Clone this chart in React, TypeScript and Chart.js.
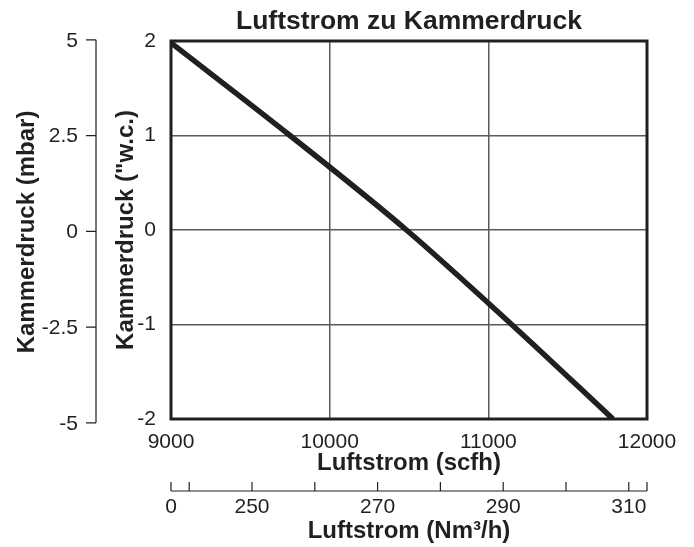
import React, { useEffect, useRef } from 'react';
import { Chart, registerables } from 'chart.js';

Chart.register(...registerables);

// ---- data ----
const airflowScfh = [9000, 9750, 10484, 11147, 11785];
const pressureWc = [1.98, 1, 0, -1, -2];

const scfhMin = 9000;
const scfhMax = 12000;
const scfhStep = 1000;
const wcMin = -2;
const wcMax = 2;
const wcStep = 1;

const mbarTicks = [5, 2.5, 0, -2.5, -5];
const mbarRange = [-4.9, 4.97];

const nmRange = [237.1, 312.9];
const nmTicks = [240, 250, 260, 270, 280, 290, 300, 310];
const nmLabelTicks = [250, 270, 290, 310];
const nmStartLabel = '0';

const TITLE = 'Luftstrom zu Kammerdruck';
const X_TITLE = 'Luftstrom (scfh)';
const Y_TITLE = 'Kammerdruck ("w.c.)';
const MBAR_TITLE = 'Kammerdruck (mbar)';
const NM_TITLE = 'Luftstrom (Nm³/h)';

// ---- styles ----
const INK = '#231f20';
const GRID = '#5a5a5a';
const FAMILY = "'Liberation Sans', Arial, Helvetica, sans-serif";
const TICK_SIZE = 21;
const TITLE_SIZE = 24;

const frame = {
  id: 'frame',
  beforeDatasetsDraw(chart: any) {
    const { ctx, chartArea: ca } = chart;
    ctx.save();
    ctx.strokeStyle = INK;
    ctx.lineWidth = 3;
    ctx.strokeRect(ca.left, ca.top, ca.right - ca.left, ca.bottom - ca.top);
    ctx.restore();
  },
};

const auxAxes = {
  id: 'auxAxes',
  afterDraw(chart: any) {
    const { ctx, chartArea: ca } = chart;
    const ym = chart.scales.yMbar;
    const xn = chart.scales.xNm;
    ctx.save();
    ctx.strokeStyle = INK;
    ctx.fillStyle = INK;

    // mbar axis (left, outer)
    const axX = 96;
    ctx.lineWidth = 1.2;
    ctx.beginPath();
    ctx.moveTo(axX, ym.getPixelForValue(mbarTicks[0]));
    ctx.lineTo(axX, ym.getPixelForValue(mbarTicks[mbarTicks.length - 1]));
    mbarTicks.forEach((v) => {
      const y = ym.getPixelForValue(v);
      ctx.moveTo(axX - 10, y);
      ctx.lineTo(axX, y);
    });
    ctx.stroke();
    ctx.font = `${TICK_SIZE}px ${FAMILY}`;
    ctx.textAlign = 'right';
    ctx.textBaseline = 'middle';
    mbarTicks.forEach((v) => ctx.fillText(String(v), axX - 18, ym.getPixelForValue(v) + 1));

    ctx.save();
    ctx.translate(27, (ca.top + ca.bottom) / 2 + 2);
    ctx.rotate(-Math.PI / 2);
    ctx.font = `bold ${TITLE_SIZE}px ${FAMILY}`;
    ctx.textAlign = 'center';
    ctx.textBaseline = 'middle';
    ctx.fillText(MBAR_TITLE, 0, 0);
    ctx.restore();

    // Nm3/h axis (bottom, outer)
    const axY = 491;
    const x0 = xn.getPixelForValue(nmRange[0]);
    const x1 = xn.getPixelForValue(nmRange[1]);
    ctx.lineWidth = 1.2;
    ctx.beginPath();
    ctx.moveTo(x0, axY);
    ctx.lineTo(x1, axY);
    [nmRange[0], ...nmTicks, nmRange[1]].forEach((v) => {
      const x = xn.getPixelForValue(v);
      ctx.moveTo(x, axY);
      ctx.lineTo(x, axY - 9);
    });
    ctx.stroke();
    ctx.font = `${TICK_SIZE}px ${FAMILY}`;
    ctx.textAlign = 'center';
    ctx.textBaseline = 'middle';
    ctx.fillText(nmStartLabel, x0, 507);
    nmLabelTicks.forEach((v) => ctx.fillText(String(v), xn.getPixelForValue(v), 507));

    ctx.font = `bold ${TITLE_SIZE}px ${FAMILY}`;
    ctx.fillText(NM_TITLE, (ca.left + ca.right) / 2, 531);
    ctx.restore();
  },
};

export default function App() {
  const ref = useRef<HTMLCanvasElement | null>(null);

  useEffect(() => {
    if (!ref.current) return;
    const chart = new Chart(ref.current, {
      type: 'line',
      data: {
        datasets: [
          {
            data: airflowScfh.map((x, i) => ({ x, y: pressureWc[i] })),
            borderColor: INK,
            borderWidth: 5.5,
            pointRadius: 0,
            cubicInterpolationMode: 'monotone',
            fill: false,
            xAxisID: 'x',
            yAxisID: 'y',
          },
        ],
      },
      options: {
        responsive: false,
        animation: false,
        layout: { padding: { left: 106, right: 47, top: 0, bottom: 69 } },
        plugins: {
          legend: { display: false },
          tooltip: { enabled: false },
          title: {
            display: true,
            text: TITLE,
            color: INK,
            fullSize: false,
            font: { family: FAMILY, size: 26.5, weight: 'bold' },
            padding: { top: 6, bottom: 3.2 },
          },
        },
        scales: {
          x: {
            type: 'linear',
            position: 'bottom',
            min: scfhMin,
            max: scfhMax,
            weight: 0,
            ticks: {
              stepSize: scfhStep,
              color: INK,
              padding: 11,
              font: { family: FAMILY, size: TICK_SIZE },
              callback: (v: any) => String(v),
            },
            grid: { color: GRID, lineWidth: 1.5, drawTicks: false },
            border: { display: false },
            title: {
              display: true,
              text: X_TITLE,
              color: INK,
              font: { family: FAMILY, size: TITLE_SIZE, weight: 'bold' },
              padding: { top: 0, bottom: 0 },
            },
            afterFit: (s: any) => {
              s.height = 59;
            },
          },
          xNm: {
            type: 'linear',
            position: 'bottom',
            display: false,
            min: nmRange[0],
            max: nmRange[1],
            weight: 1,
          },
          y: {
            type: 'linear',
            position: 'left',
            min: wcMin,
            max: wcMax,
            weight: 0,
            ticks: {
              stepSize: wcStep,
              color: INK,
              padding: 15,
              font: { family: FAMILY, size: TICK_SIZE },
              callback: (v: any) => String(v),
            },
            grid: { color: GRID, lineWidth: 1.5, drawTicks: false },
            border: { display: false },
            title: {
              display: true,
              text: Y_TITLE,
              color: INK,
              font: { family: FAMILY, size: TITLE_SIZE, weight: 'bold' },
              padding: { top: 6, bottom: 0 },
            },
            afterFit: (s: any) => {
              s.width = 65;
            },
          },
          yMbar: {
            type: 'linear',
            position: 'left',
            display: false,
            min: mbarRange[0],
            max: mbarRange[1],
            weight: 1,
          },
        },
      },
      plugins: [frame, auxAxes],
    } as any);
    return () => chart.destroy();
  }, []);

  return (
    <div style={{ position: 'absolute', left: 0, top: 0, width: 694, height: 547, background: '#fff' }}>
      <canvas ref={ref} width={694} height={547} style={{ display: 'block' }} />
    </div>
  );
}
